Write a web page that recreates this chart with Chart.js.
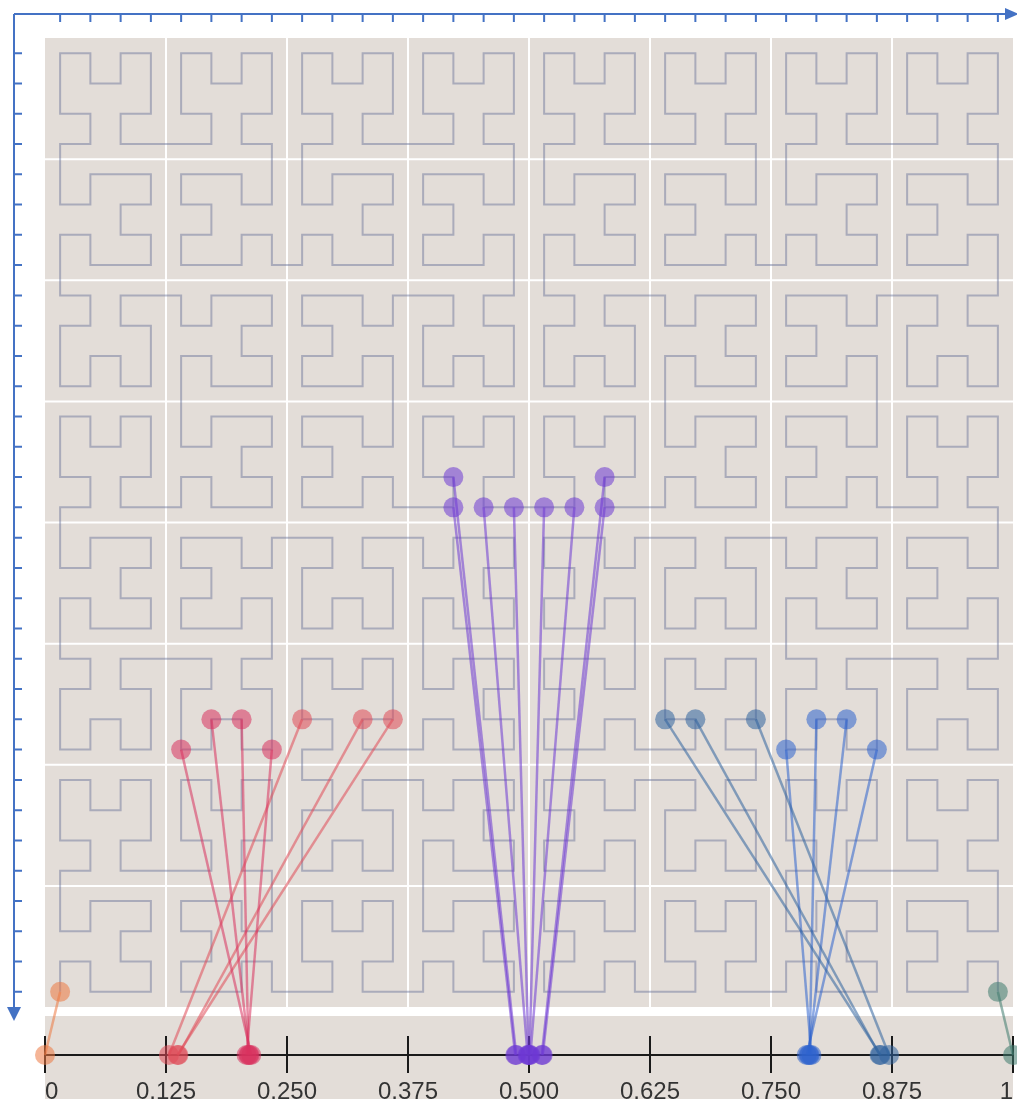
<!DOCTYPE html>
<html>
<head>
<meta charset="utf-8">
<script src="https://cdn.jsdelivr.net/npm/chart.js@4.4.0/dist/chart.umd.min.js"></script>
<style>
  html, body { margin: 0; padding: 0; background: #fff; }
  canvas { display: block; }
</style>
</head>
<body>
<canvas id="chart" width="1017" height="1099"></canvas>
<script>
// ---- data ----
const curveOrder = 5; // 2^5 = 32 cells per side
const lineTickValues = [0, 0.125, 0.25, 0.375, 0.5, 0.625, 0.75, 0.875, 1];
const lineTickLabels = ['0', '0.125', '0.250', '0.375', '0.500', '0.625', '0.750', '0.875', '1'];

// highlighted cells as [column, row], counted from the bottom-left cell
const orangeCells = [[0, 0]];
const redCells = [[4, 8], [5, 9], [6, 9], [7, 8], [8, 9], [10, 9], [11, 9]];
const purpleCells = [[13, 17], [13, 16], [14, 16], [15, 16], [16, 16], [17, 16], [18, 16], [18, 17]];
const blueCells = [[20, 9], [21, 9], [23, 9], [24, 8], [25, 9], [26, 9], [27, 8]];
const greenCells = [[31, 0]];

// colour along the number line (nearest stop wins)
const colorStops = [
  [0.00, [236, 120, 66]],
  [0.13, [224, 74, 88]],
  [0.21, [216, 50, 94]],
  [0.50, [110, 56, 212]],
  [0.79, [45, 98, 206]],
  [0.87, [48, 98, 158]],
  [1.00, [62, 122, 110]]
];

// ---- layout (pixels) ----
const W = 1017, H = 1099;
const plotLeft = 45, plotRight = 1013, plotTop = 38, plotBottom = 1007;
const bandTopPx = 1016, numberLinePx = 1055;
const plotW = plotRight - plotLeft, plotH = plotBottom - plotTop;

const xMin = -plotLeft / plotW, xMax = 1 + (W - plotRight) / plotW;
const yMax = 1 + plotTop / plotH, yMin = -(H - plotBottom) / plotH;
const lineY = -(numberLinePx - plotBottom) / plotH;
const bandTop = -(bandTopPx - plotBottom) / plotH;

// ---- hilbert helpers ----
function hilbertD2XY(n, d) {
  let x = 0, y = 0, t = d;
  for (let s = 1; s < n; s *= 2) {
    const rx = 1 & (t >> 1);
    const ry = 1 & (t ^ rx);
    if (ry === 0) {
      if (rx === 1) { x = s - 1 - x; y = s - 1 - y; }
      const tmp = x; x = y; y = tmp;
    }
    x += s * rx;
    y += s * ry;
    t >>= 2;
  }
  return [x, y];
}

function hilbertXY2D(n, x, y) {
  let d = 0;
  for (let s = n >> 1; s > 0; s >>= 1) {
    const rx = (x & s) > 0 ? 1 : 0;
    const ry = (y & s) > 0 ? 1 : 0;
    d += s * s * ((3 * rx) ^ ry);
    if (ry === 0) {
      if (rx === 1) { x = n - 1 - x; y = n - 1 - y; }
      const tmp = x; x = y; y = tmp;
    }
  }
  return d;
}

const N = 1 << curveOrder;
const cellCenter = i => (i + 0.5) / N;

function colorFor(t, alpha) {
  let best = colorStops[0];
  colorStops.forEach(s => { if (Math.abs(s[0] - t) < Math.abs(best[0] - t)) best = s; });
  const c = best[1];
  return `rgba(${c[0]}, ${c[1]}, ${c[2]}, ${alpha})`;
}

// ---- datasets ----
const curvePoints = [];
for (let d = 0; d < N * N; d++) {
  const [cx, cy] = hilbertD2XY(N, d);
  curvePoints.push({ x: cellCenter(cx), y: cellCenter(cy) });
}

const allCells = [].concat(orangeCells, redCells, purpleCells, blueCells, greenCells);
const marks = allCells.map(([cx, cy]) => {
  const t = hilbertXY2D(N, cx, cy) / (N * N - 1);
  return { x: cellCenter(cx), y: cellCenter(cy), t };
});

const connectorSets = marks.map(m => ({
  type: 'line',
  data: [{ x: m.x, y: m.y }, { x: m.t, y: lineY }],
  borderColor: colorFor(m.t, 0.55),
  borderWidth: 2.5,
  pointRadius: 0,
  order: 2
}));

const dotPoints = [];
const dotColors = [];
marks.forEach(m => {
  dotPoints.push({ x: m.x, y: m.y });
  dotColors.push(colorFor(m.t, 0.55));
});
marks.forEach(m => {
  dotPoints.push({ x: m.t, y: lineY });
  dotColors.push(colorFor(m.t, 0.55));
});

// ---- background, number line and blue axes ----
const backdrop = {
  id: 'backdrop',
  beforeDatasetsDraw(chart) {
    const ctx = chart.ctx;
    const xs = chart.scales.x, ys = chart.scales.y;
    const px = v => xs.getPixelForValue(v);
    const py = v => ys.getPixelForValue(v);
    ctx.save();

    // plot panel
    ctx.fillStyle = '#e3ddd8';
    ctx.fillRect(px(0), py(1), px(1) - px(0), py(0) - py(1));
    ctx.strokeStyle = '#ffffff';
    ctx.lineWidth = 2;
    for (let k = 1; k < 8; k++) {
      ctx.beginPath();
      ctx.moveTo(px(k / 8), py(1));
      ctx.lineTo(px(k / 8), py(0));
      ctx.moveTo(px(0), py(k / 8));
      ctx.lineTo(px(1), py(k / 8));
      ctx.stroke();
    }

    // number line band
    ctx.fillStyle = '#e3ddd8';
    ctx.fillRect(px(0), py(bandTop), px(1) - px(0), chart.height - py(bandTop));
    ctx.strokeStyle = '#1a1a1a';
    ctx.lineWidth = 2;
    ctx.beginPath();
    ctx.moveTo(px(0), py(lineY));
    ctx.lineTo(px(1), py(lineY));
    lineTickValues.forEach(v => {
      ctx.moveTo(px(v), py(lineY) - 19);
      ctx.lineTo(px(v), py(lineY) + 18);
    });
    ctx.stroke();

    ctx.fillStyle = '#333333';
    ctx.font = '24px "Liberation Sans", Arial, sans-serif';
    ctx.textBaseline = 'alphabetic';
    lineTickValues.forEach((v, i) => {
      ctx.textAlign = i === 0 ? 'left' : (i === lineTickValues.length - 1 ? 'right' : 'center');
      ctx.fillText(lineTickLabels[i], px(v), H);
    });

    // blue axes with arrows
    const axisX = 14, axisY = 14;
    ctx.strokeStyle = '#4472c4';
    ctx.fillStyle = '#4472c4';
    ctx.lineWidth = 2;
    ctx.beginPath();
    ctx.moveTo(axisX, axisY);
    ctx.lineTo(1008, axisY);
    ctx.moveTo(axisX, axisY);
    ctx.lineTo(axisX, 1008);
    for (let i = 0; i < N; i++) {
      ctx.moveTo(px(cellCenter(i)), axisY);
      ctx.lineTo(px(cellCenter(i)), axisY + 8);
      ctx.moveTo(axisX, py(1 - cellCenter(i)));
      ctx.lineTo(axisX + 8, py(1 - cellCenter(i)));
    }
    ctx.stroke();
    ctx.beginPath();
    ctx.moveTo(1005, axisY - 6);
    ctx.lineTo(1019, axisY);
    ctx.lineTo(1005, axisY + 6);
    ctx.closePath();
    ctx.fill();
    ctx.beginPath();
    ctx.moveTo(axisX - 7, 1007);
    ctx.lineTo(axisX, 1021);
    ctx.lineTo(axisX + 7, 1007);
    ctx.closePath();
    ctx.fill();

    ctx.restore();
  }
};

new Chart(document.getElementById('chart').getContext('2d'), {
  type: 'scatter',
  data: {
    datasets: [
      {
        type: 'scatter',
        data: dotPoints,
        pointRadius: 10,
        pointBackgroundColor: dotColors,
        pointBorderWidth: 0,
        order: 1,
        clip: false
      },
      ...connectorSets,
      {
        type: 'line',
        data: curvePoints,
        borderColor: 'rgba(100, 110, 150, 0.45)',
        borderWidth: 2,
        pointRadius: 0,
        tension: 0,
        order: 3
      }
    ]
  },
  options: {
    responsive: false,
    animation: false,
    devicePixelRatio: 1,
    events: [],
    layout: { padding: 0, autoPadding: false },
    scales: {
      x: { type: 'linear', min: xMin, max: xMax, display: false },
      y: { type: 'linear', min: yMin, max: yMax, display: false }
    },
    plugins: {
      legend: { display: false },
      tooltip: { enabled: false }
    }
  },
  plugins: [backdrop]
});
</script>
</body>
</html>
